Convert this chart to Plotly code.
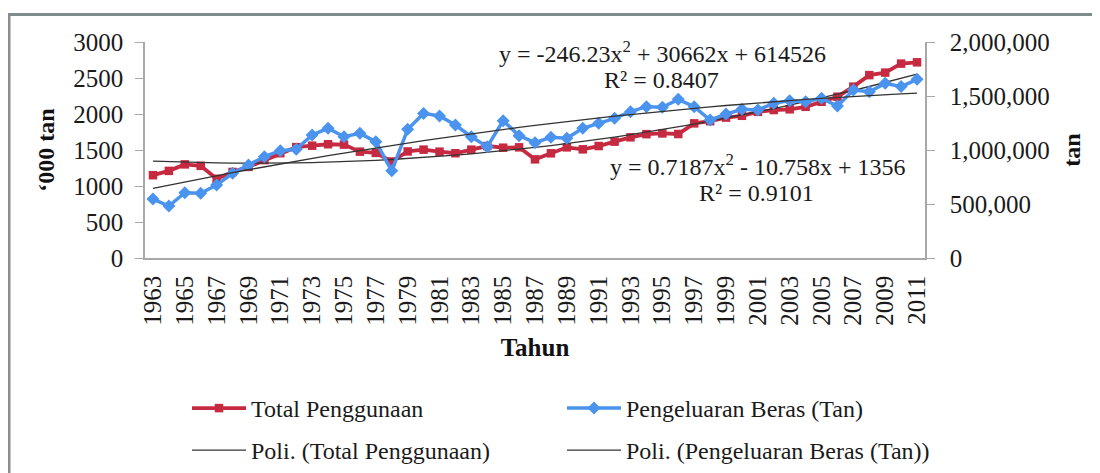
import plotly.graph_objects as go

years = [str(y) for y in range(1963, 2012)]
tick_years = [str(y) for y in range(1963, 2012, 2)]

total_penggunaan = [1150, 1210, 1300, 1280, 1100, 1195, 1265, 1360, 1455, 1540,
                    1560, 1580, 1575, 1477, 1460, 1340, 1480, 1505, 1477, 1455,
                    1505, 1555, 1532, 1537, 1370, 1454, 1537, 1509, 1555, 1616,
                    1676, 1720, 1730, 1722, 1870, 1900, 1950, 1975, 2030, 2055,
                    2065, 2100, 2170, 2240, 2380, 2540, 2575, 2700, 2718]

pengeluaran_beras = [546000, 481000, 605000, 600000, 676000, 784000, 861000, 938000,
                     994000, 1006000, 1139000, 1201000, 1123000, 1154000, 1077000,
                     807000, 1191000, 1339000, 1315000, 1231000, 1123000, 1031000,
                     1271000, 1133000, 1068000, 1117000, 1108000, 1201000, 1247000,
                     1293000, 1355000, 1401000, 1395000, 1469000, 1401000, 1278000,
                     1333000, 1377000, 1371000, 1432000, 1457000, 1447000, 1479000,
                     1407000, 1555000, 1540000, 1617000, 1587000, 1654000]

# polynomial trendline coefficients as printed on the chart (a*x^2 + b*x + c, x = 1..n)
poly_total = [0.7187, -10.758, 1356]
poly_beras = [-246.23, 30662, 614526]

idx = list(range(1, len(years) + 1))
trend_total = [poly_total[0] * i * i + poly_total[1] * i + poly_total[2] for i in idx]
trend_beras = [poly_beras[0] * i * i + poly_beras[1] * i + poly_beras[2] for i in idx]

# the page body has an 8px margin, so the figure is drawn 8px in from the window corner
OFF = 8
W, H = 1100 - OFF, 473 - OFF
L, R, T, B = 145 - OFF, 925 - OFF, 42 - OFF, 258 - OFF


def px(x):
    """window pixel x -> paper fraction"""
    return (x - OFF - L) / (R - L)


def py(y):
    """window pixel y -> paper fraction"""
    return (B - (y - OFF)) / (B - T)


FONT = "Liberation Serif, Times New Roman, serif"
RED = "#c62a41"
BLUE = "#4a93ee"
TREND = "#333333"
TXT = "#1a1a1a"

fig = go.Figure()
fig.add_trace(go.Scatter(x=years, y=total_penggunaan, name="Total Penggunaan",
                         mode="lines+markers", line=dict(color=RED, width=3.8),
                         marker=dict(symbol="square", size=8.5, color=RED),
                         legend="legend"))
fig.add_trace(go.Scatter(x=years, y=pengeluaran_beras, name="Pengeluaran Beras (Tan)",
                         mode="lines+markers", line=dict(color=BLUE, width=3.5),
                         marker=dict(symbol="diamond", size=10, color=BLUE),
                         yaxis="y2", legend="legend"))
fig.add_trace(go.Scatter(x=years, y=trend_total, name="Poli. (Total Penggunaan)",
                         mode="lines", line=dict(color=TREND, width=1.3),
                         legend="legend2"))
fig.add_trace(go.Scatter(x=years, y=trend_beras, name="Poli. (Pengeluaran Beras (Tan))",
                         mode="lines", line=dict(color=TREND, width=1.3),
                         yaxis="y2", legend="legend2"))

axis_common = dict(showline=True, linecolor="#a8a8a8", linewidth=1.5,
                   showgrid=False, zeroline=False, ticks="outside",
                   tickcolor="#a8a8a8", ticklen=8, automargin=False,
                   tickfont=dict(family=FONT, size=25, color=TXT))

legend_common = dict(orientation="h", xref="container", yref="container",
                     xanchor="left", yanchor="top", entrywidth=306, itemwidth=54,
                     font=dict(family=FONT, size=24, color=TXT),
                     bgcolor="rgba(0,0,0,0)", traceorder="normal")

fig.update_layout(
    width=W, height=H,
    margin=dict(l=L, r=W - R, t=T, b=H - B, autoexpand=False),
    paper_bgcolor="white", plot_bgcolor="white",
    font=dict(family=FONT, size=24, color=TXT),
    xaxis=dict(type="category", tickmode="array", tickvals=tick_years,
               ticktext=tick_years, tickangle=-90, showline=True,
               linecolor="#a8a8a8", linewidth=1.5, showgrid=False,
               ticks="", range=[-0.5, len(years) - 0.5], automargin=False,
               ticklabelstandoff=6,
               tickfont=dict(family=FONT, size=25, color=TXT),
               title=dict(text="<b>Tahun</b>", standoff=14,
                          font=dict(family=FONT, size=25, color="#111"))),
    yaxis=dict(range=[0, 3000], tickvals=[0, 500, 1000, 1500, 2000, 2500, 3000],
               ticklabelstandoff=7,
               title=dict(text="<b>‘000 tan</b>", standoff=12,
                          font=dict(family=FONT, size=24, color="#111")),
               **axis_common),
    yaxis2=dict(range=[0, 2000000], overlaying="y", side="right",
                tickvals=[0, 500000, 1000000, 1500000, 2000000], tickformat=",d",
                ticklabelstandoff=10,
                title=dict(text="<b>tan</b>", standoff=14,
                           font=dict(family=FONT, size=24, color="#111")),
                **axis_common),
    legend=dict(x=(187 - OFF) / W, y=1 - (386 - OFF) / H, **legend_common),
    legend2=dict(x=(187 - OFF) / W, y=1 - (428 - OFF) / H, **legend_common),
    showlegend=True,
)

ann_font = dict(family=FONT, size=24, color=TXT)
ann_common = dict(xref="paper", yref="paper", showarrow=False, font=ann_font,
                  xanchor="center", yanchor="middle")
fig.add_annotation(text="y = -246.23x<sup>2</sup> + 30662x + 614526",
                   x=px(662), y=py(52), **ann_common)
fig.add_annotation(text="R² = 0.8407", x=px(661), y=py(80), **ann_common)
fig.add_annotation(text="y = 0.7187x<sup>2</sup> - 10.758x + 1356",
                   x=px(757), y=py(165), **ann_common)
fig.add_annotation(text="R² = 0.9101", x=px(756), y=py(193), **ann_common)

# outer frame (top and left edges visible in the reference)
fig.add_shape(type="line", xref="paper", yref="paper", x0=px(8), x1=px(1100),
              y0=py(14.5), y1=py(14.5), line=dict(color="#7f8c8c", width=3))
fig.add_shape(type="line", xref="paper", yref="paper", x0=px(9), x1=px(9),
              y0=py(13), y1=py(473), line=dict(color="#8c8c8c", width=3))

fig.write_html("out.html")
